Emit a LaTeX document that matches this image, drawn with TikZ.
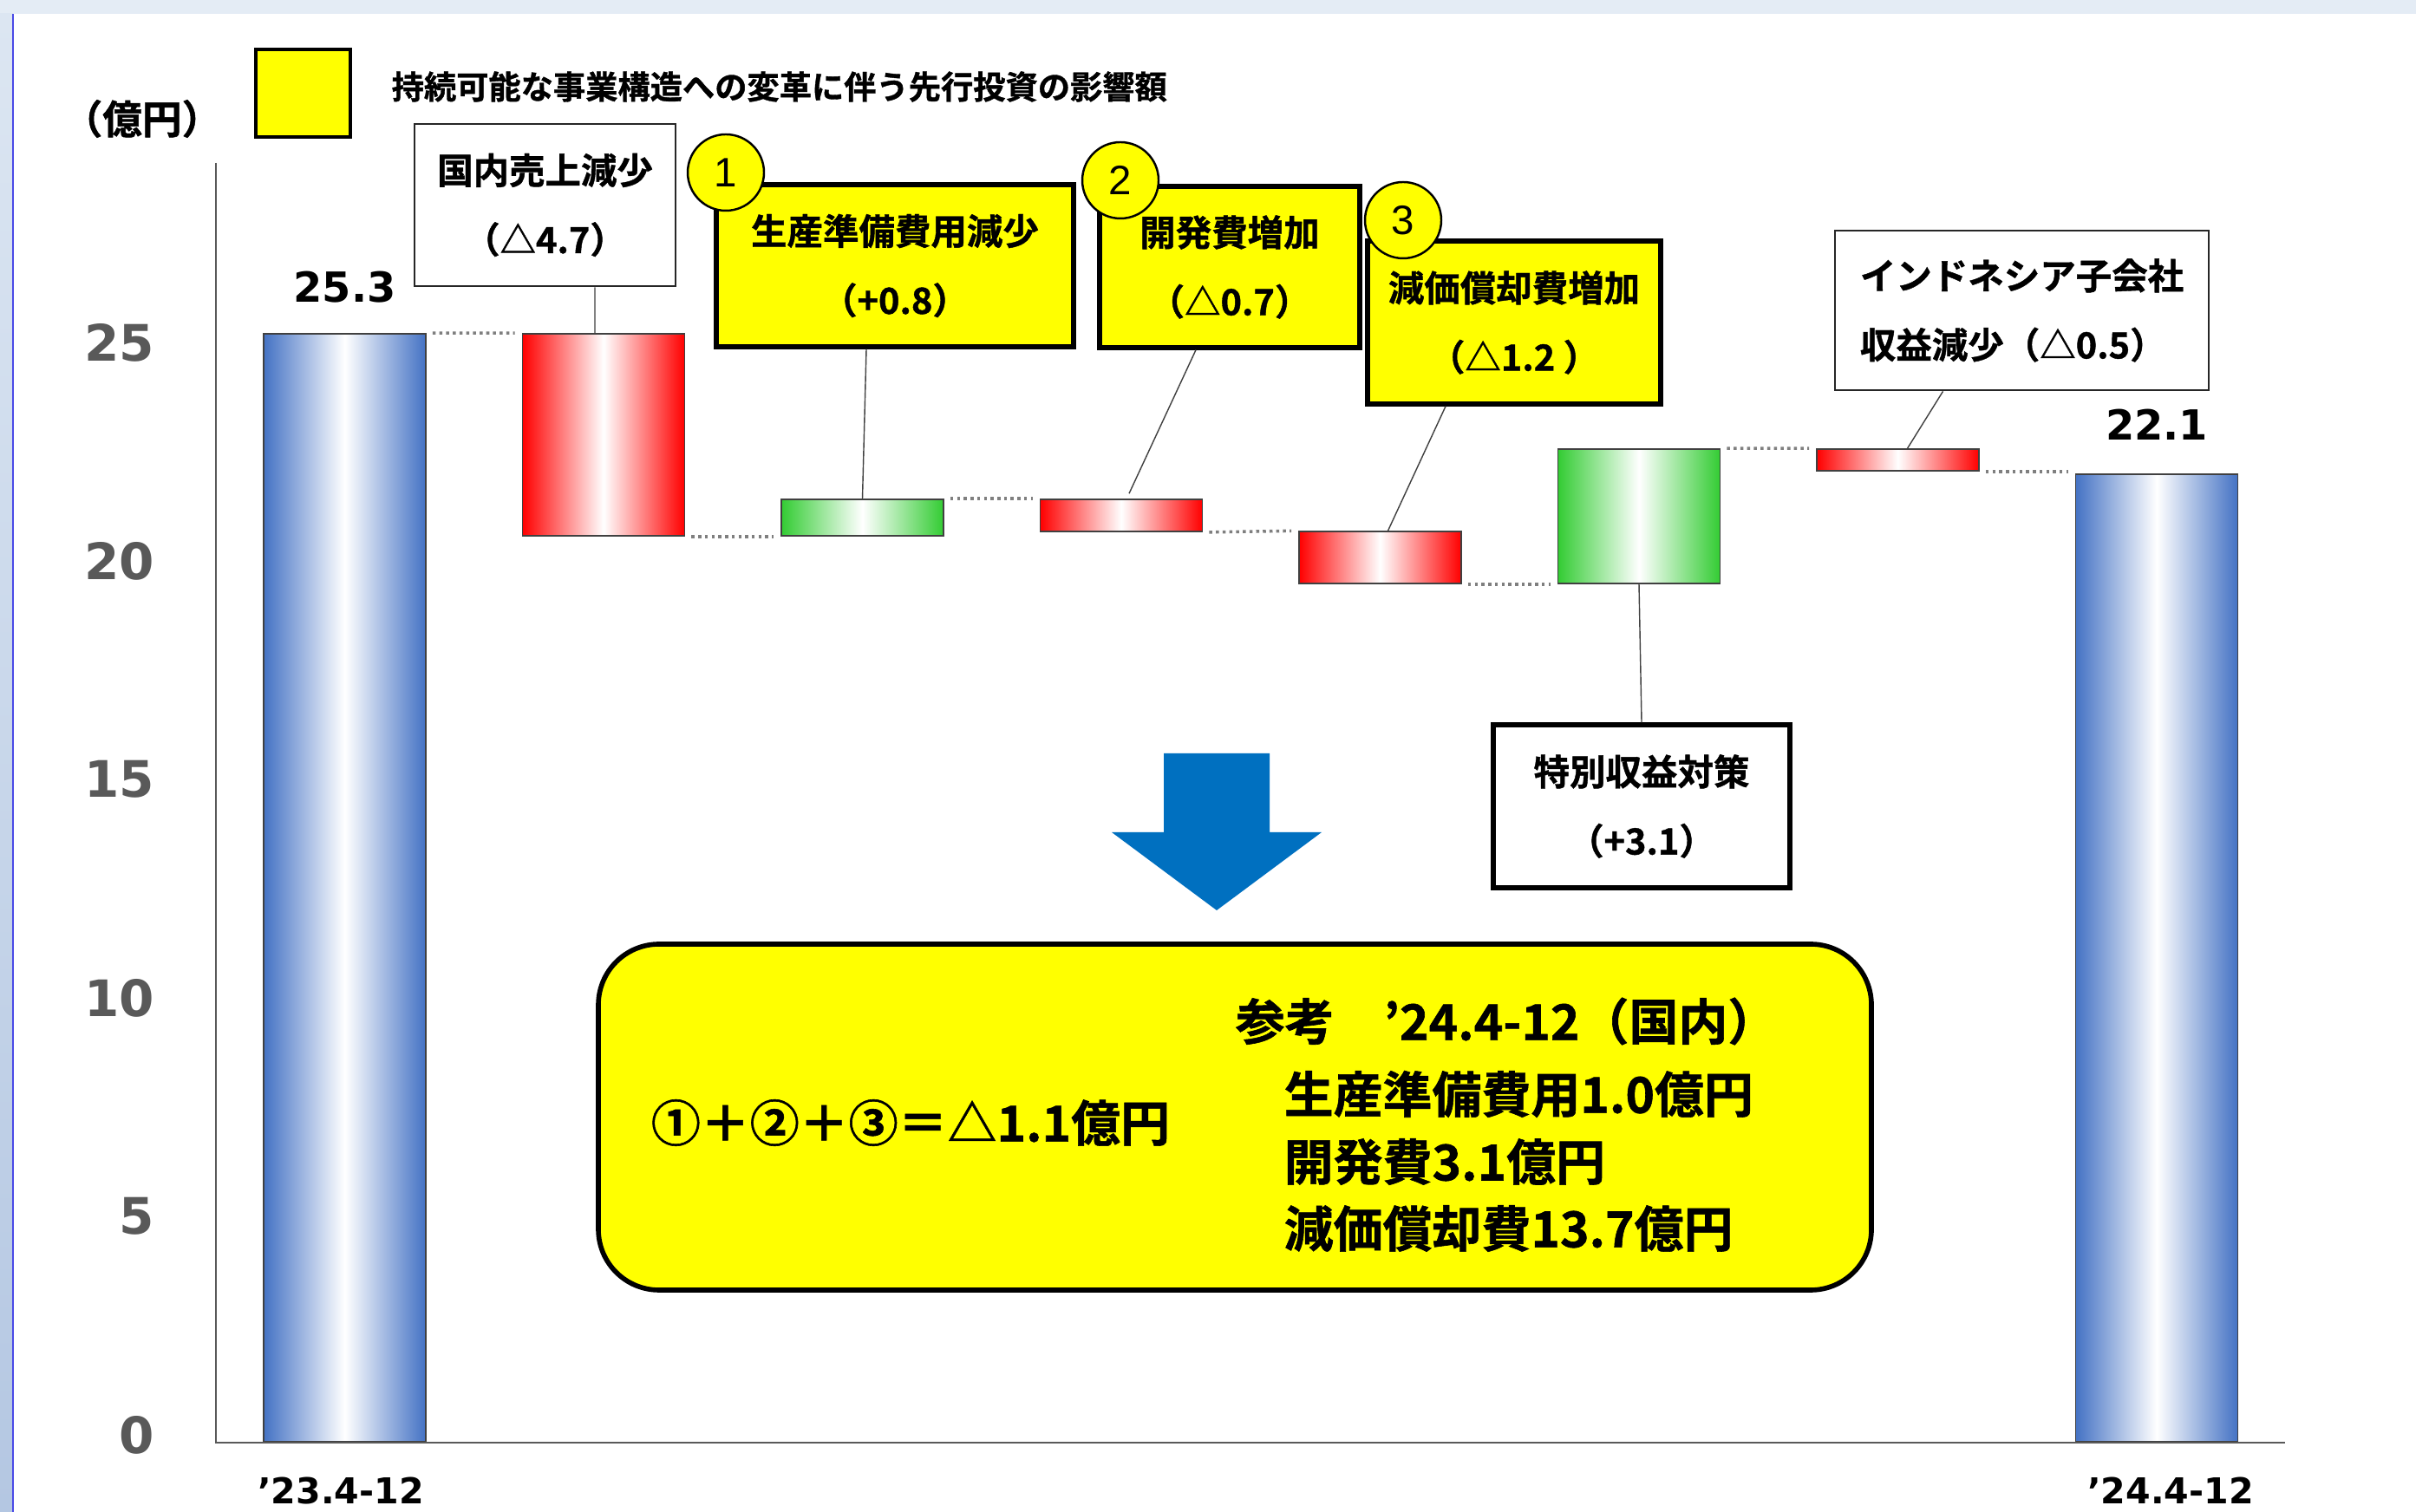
\documentclass[tikz,border=0pt]{standalone}
\usepackage{fontspec}
\setmainfont{DejaVu Sans}
\newfontfamily\jpfont{Noto Sans CJK JP}[BoldFont={Noto Sans CJK JP Bold}, BoldFeatures={FakeBold=1}]
\newfontfamily\digitfont{Liberation Sans}
\usetikzlibrary{positioning,calc}

\definecolor{barblue}{HTML}{4472C4}
\definecolor{barred}{HTML}{FF0000}
\definecolor{bargreen}{HTML}{33CC33}
\definecolor{labelgray}{HTML}{595959}
\definecolor{dotgray}{HTML}{7F7F7F}
\definecolor{noteyellow}{HTML}{FFFF00}
\definecolor{arrowblue}{HTML}{0070C0}
\definecolor{bandblue}{HTML}{E4ECF5}
\definecolor{striptop}{HTML}{DCE6F2}
\definecolor{stripbottom}{HTML}{B4C7E2}
\definecolor{frameblue}{HTML}{4A4AE6}

\tikzset{
  bar/.style={draw=black!75, line width=0.5pt, minimum width=1.87cm, inner sep=0pt, anchor=south},
  bluebar/.style={bar, left color=barblue, right color=barblue, middle color=white},
  redbar/.style={bar, left color=barred, right color=barred, middle color=white},
  greenbar/.style={bar, left color=bargreen, right color=bargreen, middle color=white},
  dotline/.style={dotgray, line width=1pt, dash pattern=on 1pt off 1.2pt, shorten <=0.07cm, shorten >=0.08cm},
  axisline/.style={black!65, line width=0.6pt},
  leader/.style={black!75, line width=0.4pt},
  ylab/.style={font=\bfseries\fontsize{16.5}{18}\selectfont, text=labelgray, anchor=east, inner sep=0pt},
  vallab/.style={font=\bfseries\fontsize{13.6}{15}\selectfont, inner sep=0pt},
  xlab/.style={font=\bfseries\fontsize{11.7}{13}\selectfont, anchor=base, inner sep=0pt},
  boxtext/.style={font=\jpfont\bfseries\fontsize{11.8}{22.7}\selectfont, align=center, inner sep=2pt},
  whitebox/.style={boxtext, draw=black!85, line width=0.8pt, fill=white},
  thickbox/.style={boxtext, draw=black, line width=1.5pt, fill=white},
  yellowbox/.style={boxtext, draw=black, line width=1.5pt, fill=noteyellow},
  numcircle/.style={circle, draw=black, line width=0.7pt, fill=noteyellow, minimum size=0.88cm, inner sep=0pt, font=\digitfont\fontsize{13.5}{13.5}\selectfont},
  legendbox/.style={draw=black, line width=1.3pt, fill=noteyellow, minimum width=1.09cm, minimum height=1.01cm, inner sep=0pt},
  legendtext/.style={font=\jpfont\bfseries\fontsize{10.6}{12}\selectfont, inner sep=0pt},
  notebox/.style={draw=black, line width=1.6pt, fill=noteyellow, rounded corners=0.7cm, minimum width=14.68cm, minimum height=3.99cm},
  notetext/.style={font=\jpfont\bfseries\fontsize{16.2}{18}\selectfont, inner sep=0pt}
}

\begin{document}
\begin{tikzpicture}
	% Marco
		\useasboundingbox (0,0) rectangle (27.86,17.44);
		\fill[white] (0,0) rectangle (27.86,17.44);
		\fill[bandblue] (0,17.28) rectangle (27.86,17.44);
		\shade[top color=striptop, bottom color=stripbottom] (0,0) rectangle (0.15,17.28);
		\draw[frameblue, line width=0.6pt] (0.15,0) -- (0.15,17.28);

	% Leyenda
		\node[legendbox] (key) at (3.495,16.365) {};
		\node[legendtext, anchor=west] (keytext) at (4.51,16.44) {持続可能な事業構造への変革に伴う先行投資の影響額};
		\node[legendtext, font=\jpfont\bfseries\fontsize{13}{15}\selectfont] (unit) at (1.64,16.07) {（億円）};

	% Barras
		\node[bluebar, minimum height=12.78cm] (b1) at (3.975,0.80) {};
		\node[redbar, minimum height=2.33cm] (r1) at (6.96,11.25) {};
		\node[greenbar, minimum height=0.42cm] (g1) at (9.945,11.25) {};
		\node[redbar, minimum height=0.37cm] (r2) at (12.93,11.30) {};
		\node[redbar, minimum height=0.60cm] (r3) at (15.915,10.70) {};
		\node[greenbar, minimum height=1.55cm] (g2) at (18.90,10.70) {};
		\node[redbar, minimum height=0.25cm] (r4) at (21.885,12.00) {};
		\node[bluebar, minimum height=11.16cm] (b2) at (24.87,0.80) {};

	% Lineas punteadas
		\draw[dotline] (b1.north east) -- (r1.north west);
		\draw[dotline] (r1.south east) -- (g1.south west);
		\draw[dotline] (g1.north east) -- (r2.north west);
		\draw[dotline] (r2.south east) -- (r3.north west);
		\draw[dotline] (r3.south east) -- (g2.south west);
		\draw[dotline] (g2.north east) -- (r4.north west);
		\draw[dotline] (r4.south east) -- (r4.south east -| b2.west);

	% Ejes
		\draw[axisline] (2.49,15.56) -- (2.49,0.80) -- (26.35,0.80);
		\node[ylab] (t0) at (1.79,0.89) {0};
		\node[ylab] (t5) at (1.79,3.41) {5};
		\node[ylab] (t10) at (1.79,5.93) {10};
		\node[ylab] (t15) at (1.79,8.45) {15};
		\node[ylab] (t20) at (1.79,10.97) {20};
		\node[ylab] (t25) at (1.79,13.49) {25};
		\node[xlab] (x1) at (3.93,0.09) {’23.4-12};
		\node[xlab] (x2) at (25.03,0.09) {’24.4-12};

	% Valores
		\node[vallab, above=0.34cm of b1] (v1) {25.3};
		\node[vallab, above=0.38cm of b2] (v2) {22.1};

	% Cajas
		\node[whitebox, minimum width=3.01cm, minimum height=1.87cm] (k1) at (6.285,15.075) {国内売上減少\\（△4.7）};
		\node[yellowbox, minimum width=4.12cm, minimum height=1.87cm] (y1) at (10.32,14.375) {生産準備費用減少\\（+0.8）};
		\node[yellowbox, minimum width=3.00cm, minimum height=1.86cm] (y2) at (14.18,14.36) {開発費増加\\（△0.7）};
		\node[yellowbox, minimum width=3.38cm, minimum height=1.88cm] (y3) at (17.46,13.72) {減価償却費増加\\（△1.2 ）};
		\node[whitebox, minimum width=4.31cm, minimum height=1.84cm, align=left] (k2) at (23.315,13.86) {インドネシア子会社\\収益減少（△0.5）};
		\node[thickbox, minimum width=3.42cm, minimum height=1.88cm] (s1) at (18.93,8.14) {特別収益対策\\（+3.1）};

	% Numeros
		\node[numcircle] (c1) at (8.37,15.45) {1};
		\node[numcircle] (c2) at (12.92,15.36) {2};
		\node[numcircle] (c3) at (16.18,14.90) {3};

	% Conectores
		\draw[leader] ($(k1.south)+(0.575,0)$) -- ($(r1.north)+(-0.10,0)$);
		\draw[leader] ($(y1.south)+(-0.33,0)$) -- (g1.north);
		\draw[leader] ($(y2.south)+(-0.39,0)$) -- ($(r2.north)+(0.09,0.06)$);
		\draw[leader] ($(y3.south)+(-0.79,0)$) -- ($(r3.north)+(0.09,0)$);
		\draw[leader] (g2.south) -- (s1.north);
		\draw[leader] ($(r4.north)+(0.11,0)$) -- ($(k2.south)+(-0.91,0)$);

	% Flecha
		\fill[arrowblue] (13.42,8.75) -- (14.64,8.75) -- (14.64,7.84) -- (15.24,7.84) -- (14.03,6.94) -- (12.82,7.84) -- (13.42,7.84) -- cycle;

	% Nota
		\node[notebox] (note) at (14.24,4.555) {};
		\node[notetext] (sum) at (10.50,4.49) {①＋②＋③＝△1.1億円};
		\node[notetext, anchor=west] (n1) at (14.24,5.66) {参考　’24.4-12（国内）};
		\node[notetext, anchor=west] (n2) at (14.80,4.82) {生産準備費用1.0億円};
		\node[notetext, anchor=west] (n3) at (14.80,4.04) {開発費3.1億円};
		\node[notetext, anchor=west] (n4) at (14.80,3.27) {減価償却費13.7億円};
\end{tikzpicture}
\end{document}
